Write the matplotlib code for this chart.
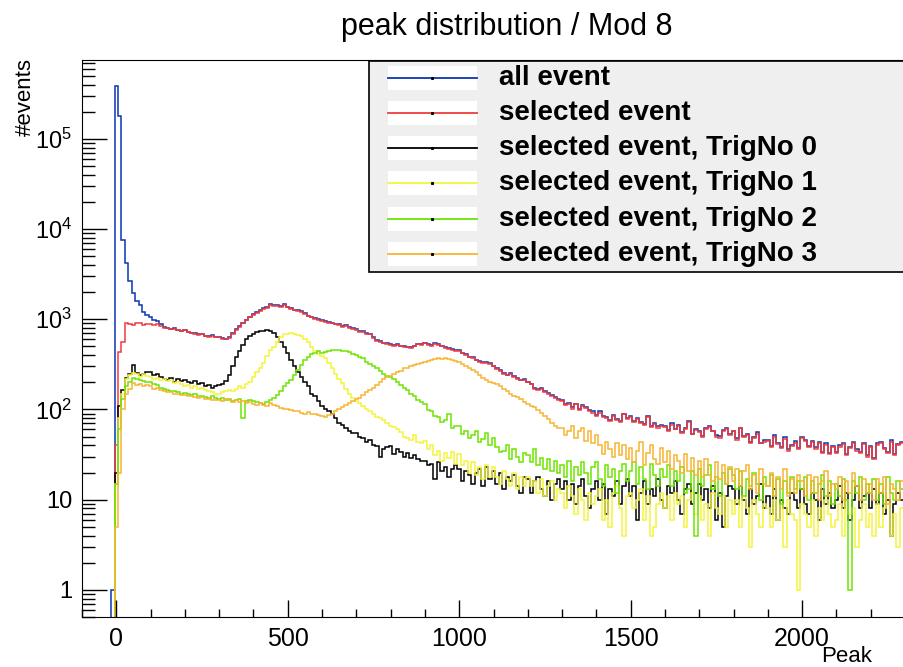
# peak distribution for module 8, ROOT-like log histogram

import numpy as np
import matplotlib
matplotlib.use("Agg")
import matplotlib.pyplot as plt
from matplotlib.patches import Rectangle
from matplotlib.lines import Line2D
from matplotlib.ticker import (FixedLocator, FixedFormatter, MultipleLocator,
                               LogLocator, NullFormatter)

# bins of width 10, centred on -100, -90, ..., 2290 (one row = 100 units)
bin_width = 10
first_center = -100

selected_event = [
    0, 0, 0, 0, 0, 0, 0, 0, 0, 0,
    40, 430, 560, 900, 880, 860, 900, 920, 870, 880,
    890, 860, 880, 840, 810, 800, 780, 790, 760, 740,
    760, 720, 700, 690, 670, 680, 650, 640, 660, 630,
    630, 610, 600, 620, 690, 760, 830, 900, 970, 1050,
    1120, 1180, 1250, 1300, 1340, 1430, 1400, 1420, 1380, 1430,
    1360, 1300, 1260, 1240, 1200, 1150, 1080, 1050, 1020, 990,
    960, 930, 920, 900, 880, 860, 830, 840, 800, 790,
    760, 730, 720, 690, 680, 620, 570, 560, 540, 530,
    520, 510, 520, 500, 495, 490, 480, 500, 530, 520,
    540, 520, 510, 530, 520, 500, 480, 470, 460, 450,
    450, 420, 400, 380, 370, 350, 340, 330, 330, 320,
    300, 280, 270, 250, 240, 250, 230, 220, 210, 210,
    200, 190, 170, 165, 170, 155, 150, 140, 135, 128,
    125, 112, 116, 102, 114, 98, 110, 103, 96, 92,
    84, 92, 82, 80, 74, 85, 77, 72, 88, 79,
    82, 73, 78, 70, 68, 83, 64, 69, 62, 66,
    64, 57, 68, 60, 65, 55, 61, 72, 53, 59,
    56, 50, 61, 64, 57, 50, 48, 58, 60, 52,
    57, 46, 62, 50, 52, 43, 48, 54, 42, 44,
    45, 38, 50, 41, 37, 47, 35, 39, 43, 36,
    48, 45, 38, 44, 36, 43, 33, 40, 32, 38,
    33, 38, 41, 31, 37, 42, 35, 33, 41, 30,
    38, 28, 40, 43, 36, 33, 44, 31, 40, 42,
]

# events that did not pass the selection (all event = selected + rejected)
rejected_event = [
    0, 0, 0, 0, 0, 0, 0, 0, 0, 1,
    390000, 180000, 7000, 3300, 1800, 1100, 700, 520, 330, 240,
    170, 120, 80, 40, 20, 10, 5, 3, 2, 2,
    10, 12, 8, 14, 10, 12, 9, 11, 13, 10,
    12, 9, 11, 14, 10, 15, 12, 18, 16, 20,
    22, 18, 25, 30, 28, 40, 32, 35, 28, 30,
    26, 30, 22, 28, 24, 25, 20, 22, 18, 21,
    17, 22, 16, 19, 15, 18, 14, 16, 20, 13,
    14, 12, 15, 11, 13, 10, 12, 9, 11, 10,
    10, 9, 11, 8, 10, 9, 7, 10, 8, 9,
    8, 9, 7, 10, 8, 6, 9, 7, 8, 6,
    7, 6, 8, 5, 7, 6, 5, 7, 6, 5,
    5, 6, 4, 5, 4, 6, 5, 4, 3, 5,
    4, 3, 5, 4, 3, 4, 3, 4, 2, 3,
    3, 2, 3, 4, 2, 3, 2, 3, 2, 3,
    2, 3, 2, 2, 3, 1, 2, 3, 2, 2,
    2, 1, 2, 3, 1, 2, 2, 1, 3, 2,
    1, 2, 2, 1, 3, 1, 2, 2, 1, 2,
    2, 1, 1, 2, 1, 2, 3, 1, 2, 1,
    1, 2, 1, 1, 2, 1, 1, 2, 1, 2,
    1, 1, 2, 1, 1, 2, 1, 1, 2, 1,
    2, 1, 1, 1, 2, 1, 1, 2, 1, 1,
    1, 2, 1, 1, 1, 2, 1, 1, 2, 1,
    1, 1, 2, 1, 1, 1, 2, 1, 1, 2,
]

trig0 = [
    0, 0, 0, 0, 0, 0, 0, 0, 0, 0,
    20, 110, 165, 222, 250, 310, 255, 240, 250, 260,
    260, 240, 250, 230, 220, 210, 225, 200, 215, 205,
    210, 200, 195, 205, 190, 195, 180, 185, 175, 180,
    186, 190, 205, 240, 300, 380, 450, 520, 600, 660,
    690, 720, 750, 740, 760, 750, 700, 640, 560, 490,
    420, 350, 300, 260, 230, 200, 180, 150, 140, 125,
    110, 100, 95, 88, 80, 71, 68, 62, 58, 55,
    55, 50, 48, 44, 46, 40, 39, 30, 36, 38,
    39, 32, 36, 34, 30, 33, 29, 31, 28, 27,
    27, 24, 25, 17, 26, 21, 23, 18, 22, 24,
    22, 16, 21, 19, 15, 20, 22, 14, 23, 17,
    21, 15, 20, 13, 18, 16, 19, 14, 12, 18,
    17, 12, 16, 18, 13, 11, 16, 10, 15, 17,
    13, 16, 10, 15, 9, 14, 17, 11, 8, 13,
    16, 10, 15, 7, 13, 11, 16, 9, 14, 17,
    11, 14, 6, 12, 16, 9, 13, 11, 17, 10,
    8, 14, 12, 16, 10, 7, 13, 15, 9, 12,
    15, 10, 13, 8, 14, 6, 12, 5, 11, 14,
    13, 9, 14, 10, 7, 13, 9, 11, 15, 8,
    11, 7, 13, 6, 10, 8, 7, 12, 10, 8,
    13, 9, 7, 12, 10, 6, 13, 9, 12, 8,
    10, 14, 8, 12, 6, 10, 14, 8, 11, 12,
    8, 13, 9, 12, 7, 10, 4, 9, 12, 10,
]

trig1 = [
    0, 0, 0, 0, 0, 0, 0, 0, 0, 0,
    15, 80, 150, 215, 240, 255, 250, 230, 245, 235,
    230, 220, 225, 210, 215, 205, 210, 195, 200, 190,
    180, 185, 175, 180, 170, 175, 165, 160, 155, 150,
    150, 155, 160, 165, 160, 170, 180, 175, 190, 200,
    230, 260, 290, 330, 390, 460, 490, 560, 640, 680,
    690, 700, 680, 670, 660, 610, 560, 490, 450, 410,
    390, 370, 330, 290, 250, 215, 195, 170, 150, 135,
    125, 118, 110, 100, 95, 88, 83, 80, 76, 70,
    66, 64, 60, 56, 50, 48, 46, 52, 44, 43,
    45, 36, 40, 31, 35, 27, 33, 29, 34, 25,
    32, 24, 27, 20, 26, 19, 23, 17, 24, 18,
    23, 18, 15, 21, 17, 14, 20, 13, 18, 14,
    18, 14, 16, 12, 17, 11, 14, 16, 10, 13,
    12, 8, 14, 11, 7, 13, 10, 6, 12, 9,
    11, 13, 6, 10, 5, 12, 14, 8, 4, 11,
    12, 8, 10, 13, 6, 11, 4, 5, 9, 12,
    8, 11, 6, 12, 9, 11, 5, 10, 12, 7,
    11, 6, 9, 4, 12, 8, 7, 11, 5, 10,
    7, 10, 5, 11, 8, 3, 10, 7, 5, 9,
    8, 5, 10, 6, 9, 3, 10, 7, 6, 1,
    9, 7, 5, 10, 4, 8, 6, 10, 7, 5,
    6, 9, 4, 10, 7, 8, 3, 6, 9, 5,
    7, 4, 9, 5, 8, 9, 4, 7, 3, 8,
]

trig2 = [
    0, 0, 0, 0, 0, 0, 0, 0, 0, 0,
    15, 60, 130, 180, 200, 222, 215, 210, 205, 200,
    200, 190, 185, 175, 170, 165, 160, 162, 155, 150,
    152, 148, 145, 150, 140, 142, 138, 135, 140, 133,
    130, 135, 128, 130, 125, 128, 132, 80, 125, 128,
    125, 120, 118, 115, 120, 128, 133, 145, 160, 180,
    195, 210, 240, 275, 310, 350, 380, 410, 420, 440,
    420, 430, 445, 460, 455, 460, 450, 440, 430, 410,
    400, 380, 370, 340, 320, 300, 290, 270, 250, 235,
    230, 215, 200, 185, 175, 165, 150, 140, 128, 120,
    115, 98, 96, 84, 82, 72, 76, 88, 62, 66,
    66, 54, 58, 48, 52, 58, 44, 47, 55, 40,
    48, 38, 34, 35, 40, 28, 36, 30, 26, 33,
    31, 26, 36, 24, 29, 22, 28, 21, 27, 20,
    24, 18, 27, 16, 23, 19, 26, 20, 15, 23,
    26, 17, 14, 24, 18, 22, 12, 21, 25, 16,
    21, 26, 15, 23, 17, 13, 25, 19, 14, 22,
    18, 24, 14, 21, 16, 23, 12, 13, 21, 4,
    22, 14, 19, 24, 13, 18, 11, 20, 15, 22,
    19, 13, 21, 11, 17, 14, 20, 15, 10, 18,
    14, 19, 11, 17, 9, 16, 12, 18, 13, 16,
    13, 18, 10, 16, 12, 15, 19, 11, 16, 9,
    15, 11, 17, 10, 1, 16, 12, 18, 10, 15,
    12, 17, 10, 15, 9, 18, 12, 10, 16, 13,
]

trig3 = [
    0, 0, 0, 0, 0, 0, 0, 0, 0, 0,
    5, 20, 100, 150, 170, 195, 185, 190, 180, 185,
    180, 170, 172, 165, 160, 158, 155, 150, 148, 145,
    145, 140, 142, 138, 135, 138, 130, 132, 128, 126,
    128, 125, 130, 128, 122, 126, 120, 124, 118, 120,
    115, 112, 118, 113, 110, 118, 112, 108, 105, 100,
    102, 98, 95, 97, 92, 90, 94, 90, 88, 86,
    85, 83, 86, 90, 95, 100, 107, 112, 118, 125,
    130, 135, 145, 155, 165, 175, 185, 200, 215, 230,
    235, 250, 260, 270, 285, 290, 300, 310, 320, 330,
    340, 345, 355, 360, 370, 365, 370, 360, 350, 345,
    340, 320, 300, 285, 275, 260, 240, 225, 210, 200,
    195, 190, 180, 170, 160, 150, 140, 138, 130, 120,
    115, 110, 107, 98, 92, 85, 78, 71, 66, 62,
    62, 52, 58, 66, 48, 57, 63, 45, 58, 42,
    52, 40, 32, 44, 36, 30, 42, 31, 40, 28,
    37, 26, 35, 44, 24, 33, 40, 28, 25, 37,
    26, 35, 22, 31, 27, 20, 32, 21, 29, 19,
    27, 18, 28, 19, 16, 26, 17, 24, 15, 23,
    16, 22, 14, 21, 24, 13, 19, 12, 22, 15,
    14, 20, 11, 18, 13, 22, 11, 17, 12, 19,
    16, 11, 19, 12, 18, 10, 16, 21, 11, 15,
    13, 18, 10, 16, 12, 20, 14, 10, 17, 12,
    15, 10, 17, 12, 18, 9, 15, 13, 10, 16,
]

labels = ["all event", "selected event",
          "selected event, TrigNo 0", "selected event, TrigNo 1",
          "selected event, TrigNo 2", "selected event, TrigNo 3"]
colors = ["#0c36b4", "#f03b3b", "#000000", "#f4f43a", "#6ce400", "#f8b430"]

all_event = np.array(selected_event) + np.array(rejected_event)
series = [all_event, selected_event, trig0, trig1, trig2, trig3]

n_bins = len(selected_event)
edges = first_center - bin_width / 2 + bin_width * np.arange(n_bins + 1)

W, H = 904, 667


def fx(px):
    return px / W


def fy(py):
    return 1 - py / H


plt.rcParams['font.family'] = ['Liberation Sans', 'DejaVu Sans']

fig = plt.figure(figsize=(W / 100, H / 100), dpi=100)
ax = fig.add_axes([fx(82), fy(617), (905 - 82) / W, (617 - 60) / H])

y_lo, y_hi = 0.5, 7.5e5
for vals, col in zip(series, colors):
    v = np.asarray(vals, dtype=float)
    v = np.where(v > 0, v, 0.3)   # empty bins drop below the frame
    ax.stairs(v, edges, baseline=None, color=col, lw=1.1)

ax.set_yscale('log')
ax.set_xlim(-100, 2300)
ax.set_ylim(y_lo, y_hi)

ax.xaxis.set_major_locator(MultipleLocator(500))
ax.xaxis.set_minor_locator(MultipleLocator(100))
ax.tick_params(axis='x', which='major', direction='in', length=12, width=1,
               labelsize=18, pad=7, top=False)
ax.tick_params(axis='x', which='minor', direction='in', length=6, width=1,
               top=False)

ax.yaxis.set_major_locator(FixedLocator([1, 10, 100, 1e3, 1e4, 1e5]))
ax.yaxis.set_major_formatter(FixedFormatter(
    ['1', '10'] + [r'$\mathregular{10^{%d}}$' % k for k in range(2, 6)]))
ax.yaxis.set_minor_locator(LogLocator(base=10, subs=np.arange(2, 10) * 1.0,
                                      numticks=30))
ax.yaxis.set_minor_formatter(NullFormatter())
ax.tick_params(axis='y', which='major', direction='in', length=18, width=1,
               labelsize=17, pad=7, right=False)
ax.tick_params(axis='y', which='minor', direction='in', length=9, width=1,
               right=False)

# legend box, ROOT style
box = Rectangle((fx(369), fy(272)), fx(912) - fx(369), fy(61) - fy(272),
                transform=fig.transFigure, facecolor='#efefef',
                edgecolor='black', lw=1.2, zorder=5)
fig.add_artist(box)
for k, (lab, col) in enumerate(zip(labels, colors)):
    cy = 77.7 + 35.2 * k
    fig.add_artist(Rectangle((fx(388), fy(cy + 12)), fx(477) - fx(388),
                             fy(cy - 12) - fy(cy + 12),
                             transform=fig.transFigure, facecolor='white',
                             edgecolor='none', zorder=6))
    fig.add_artist(Line2D([fx(388), fx(477)], [fy(cy), fy(cy)],
                          transform=fig.transFigure, color=col, lw=1.3,
                          zorder=7))
    fig.add_artist(Line2D([fx(432.5)], [fy(cy)], transform=fig.transFigure,
                          marker='s', ms=1.2, color='black', lw=0, zorder=8))
    fig.text(fx(499), fy(cy), lab, fontsize=20, fontweight='bold',
             ha='left', va='center', zorder=8)

fig.text(fx(507), fy(27), 'peak distribution / Mod 8', ha='center',
         va='center', fontsize=22)
fig.text(fx(25), fy(58), '#events', rotation=90, ha='center', va='top',
         fontsize=16)
fig.text(fx(872), fy(656), 'Peak', ha='right', va='center', fontsize=16)

fig.savefig('out.png', dpi=100, facecolor='white')
